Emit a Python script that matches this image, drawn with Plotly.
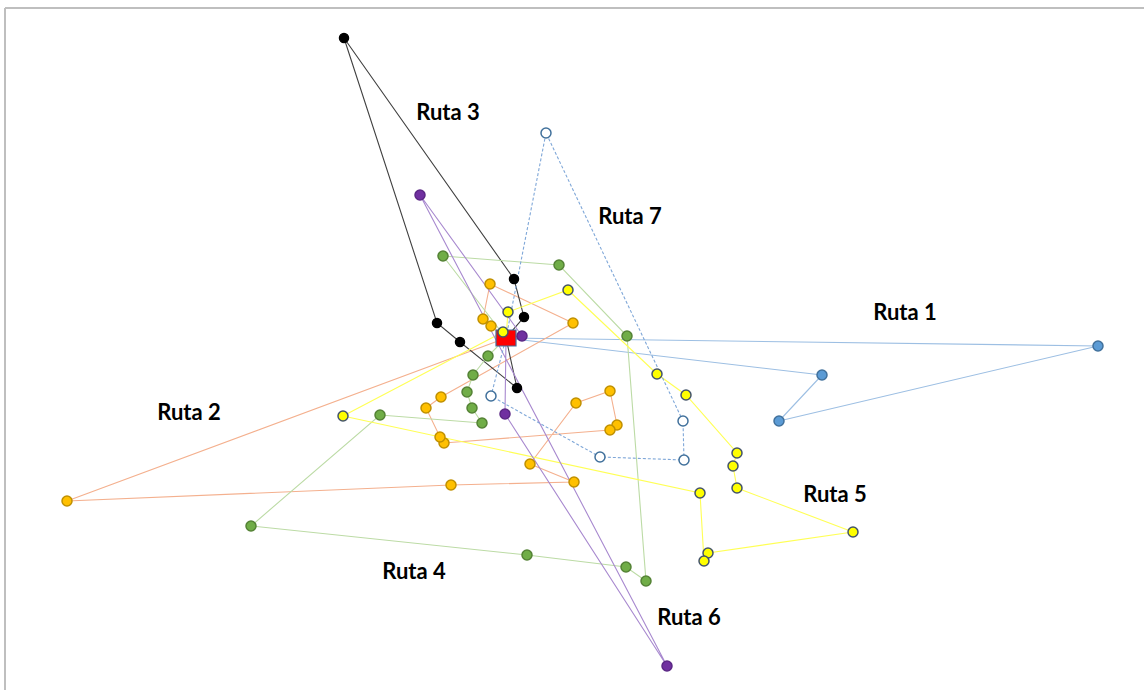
import plotly.graph_objects as go

# Depot location (image-space units; y grows downward)
depot_x = 506
depot_y = 338

# Customer coordinates per route, in visiting order
r1_x = [1098, 779, 822]
r1_y = [346, 421, 375]

r2_x = [67, 451, 574, 530, 576, 610, 617, 610, 444, 440, 426, 441, 573, 490, 483, 491]
r2_y = [501, 485, 482, 464, 403, 391, 425, 430, 443, 437, 408, 397, 323, 284, 319, 326]

r3_x = [524, 514, 344, 437, 460, 517]
r3_y = [317, 279, 38, 323, 342, 388]

r4_x = [443, 559, 627, 646, 626, 527, 251, 380, 482, 472, 467, 473, 488]
r4_y = [256, 265, 336, 581, 567, 555, 526, 415, 423, 408, 392, 375, 356]

r5_x = [508, 568, 657, 686, 737, 733, 737, 853, 708, 704, 700, 343, 503]
r5_y = [312, 290, 374, 395, 453, 466, 488, 532, 553, 561, 493, 416, 332]

r6_x = [522, 420, 667, 505]
r6_y = [336, 195, 666, 414]

r7_x = [546, 683, 684, 600, 491]
r7_y = [133, 421, 460, 457, 396]

route_names = ["Ruta 1", "Ruta 2", "Ruta 3", "Ruta 4", "Ruta 5", "Ruta 6", "Ruta 7"]
label_x = [905, 189, 448, 414, 835, 689, 630]
label_y = [314, 414, 114, 573, 496, 619, 218]

routes = [
    (r1_x, r1_y), (r2_x, r2_y), (r3_x, r3_y), (r4_x, r4_y),
    (r5_x, r5_y), (r6_x, r6_y), (r7_x, r7_y),
]

styles = [
    dict(line="#9DBFE3", dash="solid", fill="#5B9BD5", edge="#41719C", size=10),
    dict(line="#F4B08E", dash="solid", fill="#FFC000", edge="#C09000", size=10),
    dict(line="#404040", dash="solid", fill="#000000", edge="#000000", size=9),
    dict(line="#BCDBA5", dash="solid", fill="#70AD47", edge="#548235", size=10),
    dict(line="#FFFF55", dash="solid", fill="#FFFF00", edge="#44546A", size=10),
    dict(line="#A889CF", dash="solid", fill="#7030A0", edge="#5B2785", size=10),
    dict(line="#7FA7D8", dash="3px,2px", fill="#FFFFFF", edge="#41719C", size=10),
]

fig = go.Figure()

# Route lines
for (xs, ys), st in zip(routes, styles):
    fig.add_trace(go.Scatter(
        x=[depot_x] + xs + [depot_x],
        y=[depot_y] + ys + [depot_y],
        mode="lines",
        line=dict(color=st["line"], width=1.1, dash=st["dash"]),
        hoverinfo="skip", showlegend=False,
    ))

# Depot rectangle
hw, hh = 10, 8
fig.add_trace(go.Scatter(
    x=[depot_x - hw, depot_x + hw, depot_x + hw, depot_x - hw, depot_x - hw],
    y=[depot_y - hh, depot_y - hh, depot_y + hh, depot_y + hh, depot_y - hh],
    mode="lines", fill="toself", fillcolor="#FF0000",
    line=dict(color="#41719C", width=1.2),
    hoverinfo="skip", showlegend=False,
))

# Customer markers
for (xs, ys), st in zip(routes, styles):
    fig.add_trace(go.Scatter(
        x=xs, y=ys, mode="markers",
        marker=dict(size=st["size"], color=st["fill"],
                    line=dict(color=st["edge"], width=1.5)),
        hoverinfo="skip", showlegend=False,
    ))

# Route labels
fig.add_trace(go.Scatter(
    x=label_x, y=label_y, mode="text", text=route_names,
    texttemplate="<b>%{text}</b>",
    textfont=dict(family="Lato", size=22, color="#000000"),
    textposition="middle center",
    hoverinfo="skip", showlegend=False,
))

# Frame lines (left and top)
fig.add_shape(type="line", xref="paper", yref="paper", x0=5/1144, x1=5/1144, y0=0, y1=1 - 8/690,
              line=dict(color="#BFBFBF", width=2))
fig.add_shape(type="line", xref="paper", yref="paper", x0=5/1144, x1=1, y0=1 - 8/690, y1=1 - 8/690,
              line=dict(color="#BFBFBF", width=2))

fig.update_layout(
    width=1144, height=690,
    margin=dict(l=0, r=0, t=0, b=0),
    paper_bgcolor="white", plot_bgcolor="white",
    xaxis=dict(range=[0, 1144], visible=False, fixedrange=True),
    yaxis=dict(range=[690, 0], visible=False, fixedrange=True),
    font=dict(family="Lato"),
)

fig.write_html("out.html", config={"displayModeBar": False},
               post_script="document.body.style.margin='0';document.body.style.overflow='hidden';")
